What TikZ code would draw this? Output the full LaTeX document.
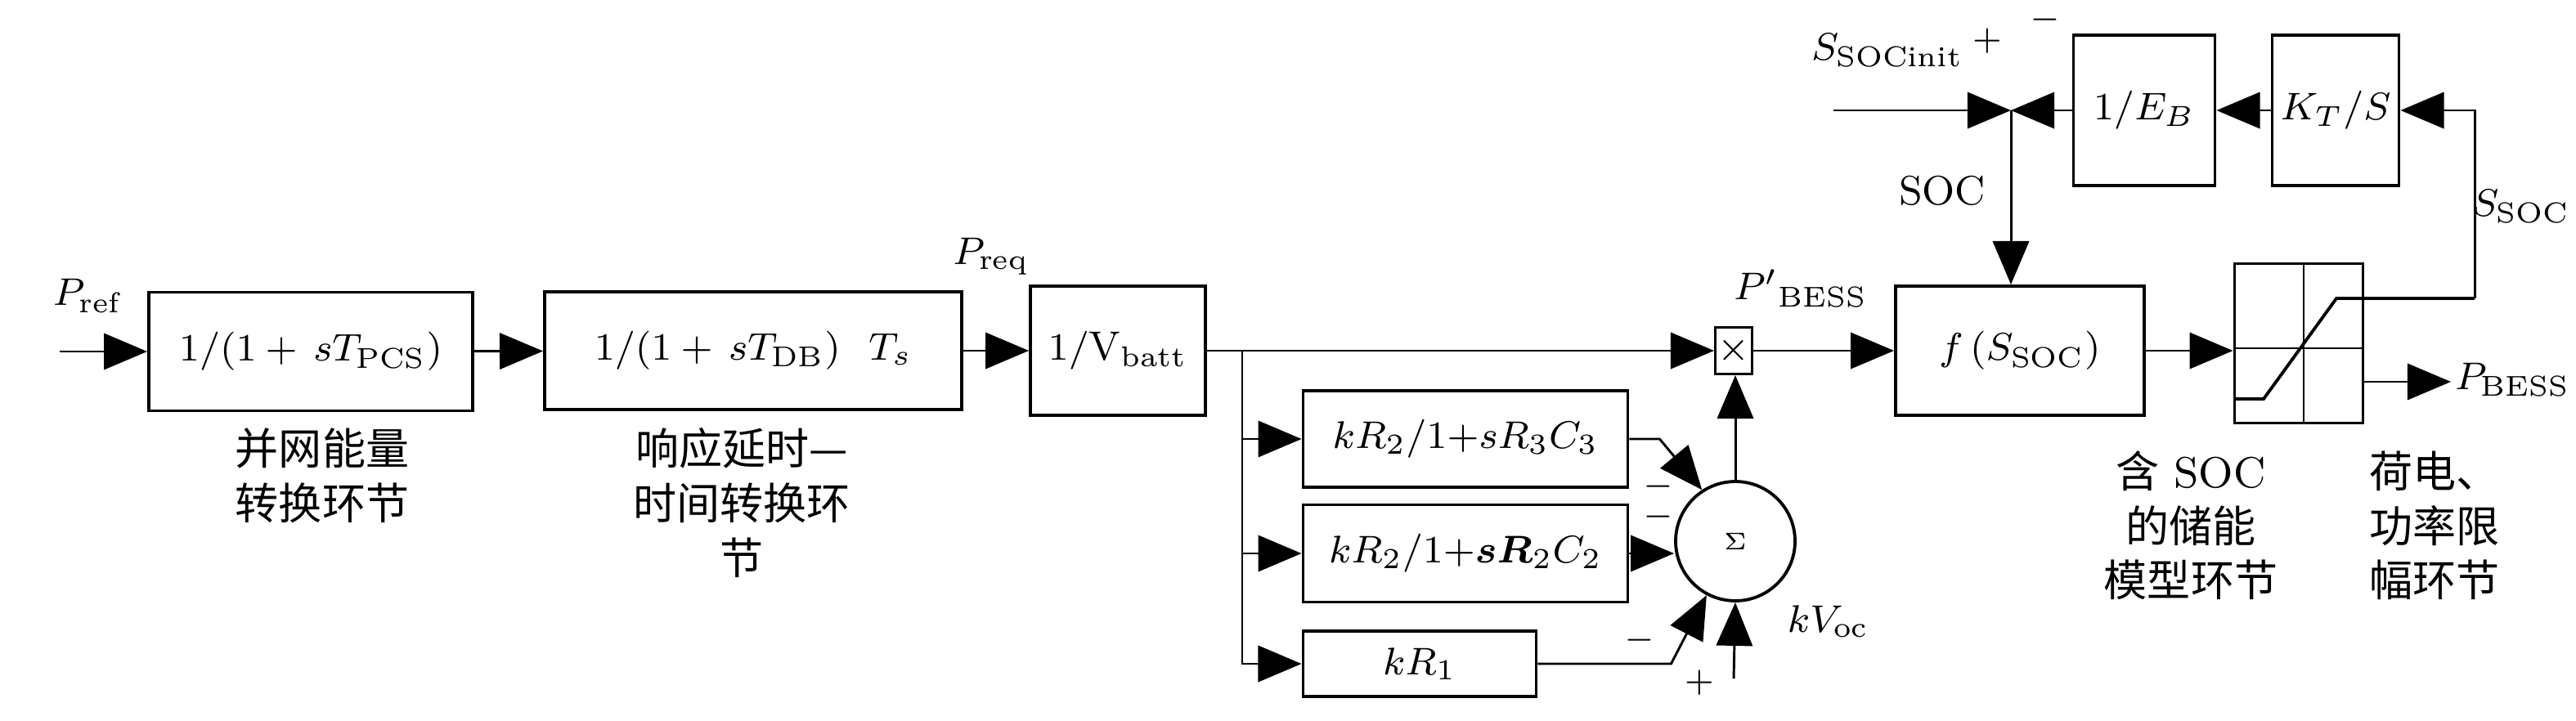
\documentclass[tikz,border=0pt]{standalone}
\usepackage{amsmath}
\usepackage{fontspec}
\newfontfamily\cjk{Noto Sans CJK SC}
\usetikzlibrary{arrows.meta}

\tikzset{
  blk/.style={draw, line width=0.65pt, inner sep=0pt},
  sig/.style={line width=0.5pt, -{Triangle[length=9pt,width=7.5pt]}},
  sgn/.style={font=\scriptsize, inner sep=0pt},
  cn/.style={font=\fontsize{9}{11.3}\selectfont, align=center, inner sep=0pt}
}

\begin{document}
\begin{tikzpicture}[x=0.596cm,y=-0.596cm,font=\fontsize{8.5}{10.2}\selectfont]
      \useasboundingbox (0,0) rectangle (31.50,8.81);

      % blocks
      \node[blk, minimum width=2.36cm, minimum height=0.864cm] (pcs) at (3.80,4.30) {$1/(1 + \,sT_{\mathrm{PCS}})$};
      \node[blk, minimum width=3.04cm, minimum height=0.858cm] (db) at (9.21,4.29) {$1/(1 + \,sT_{\mathrm{DB}})\ \ T_s$};
      \node[blk, minimum width=1.275cm, minimum height=0.942cm] (vb) at (13.67,4.29) {$1/\mathrm{V}_{\mathrm{batt}}$};
      \node[blk, minimum width=2.366cm, minimum height=0.703cm] (rc3) at (17.92,5.37) {$kR_2/1{+}sR_3C_3$};
      \node[blk, minimum width=2.366cm, minimum height=0.709cm] (rc2) at (17.92,6.77) {\raisebox{-3pt}{$kR_2/1{+}\boldsymbol{sR}_2C_2$}};
      \node[blk, minimum width=1.699cm, minimum height=0.477cm] (r1) at (17.36,8.12) {$kR_1$};
      \node[blk, circle, minimum size=0.87cm] (sum) at (21.22,6.62) {\tiny$\Sigma$};
      \node[blk, line width=0.5pt, minimum width=0.268cm, minimum height=0.34cm] (mult) at (21.20,4.29) {\footnotesize$\times$};
      \node[blk, minimum width=1.812cm, minimum height=0.942cm] (fsoc) at (24.70,4.29) {$f\,(S_{\mathrm{SOC}})$};
      \node[blk, minimum width=0.936cm, minimum height=1.162cm] (sat) at (28.11,4.20) {};
      \node[blk, minimum width=1.031cm, minimum height=1.097cm] (eb) at (26.22,1.35) {$1/E_B$};
      \node[blk, minimum width=0.924cm, minimum height=1.097cm] (kt) at (28.56,1.35) {$K_T/S$};

      % saturation
      \draw[line width=0.4pt] (28.17,3.23) -- (28.17,5.18);
      \draw[line width=0.4pt] (27.33,4.26) -- (28.90,4.26);

      % labels
      \node (pref) at (1.07,3.62) {$P_{\mathrm{ref}}$};
      \node (preq) at (12.12,3.14) {$P_{\mathrm{req}}$};
      \node (pbp) at (22.02,3.53) {${P'}_{\mathrm{BESS}}$};
      \node (soc) at (23.75,2.33) {SOC};
      \node[anchor=east, inner sep=0pt] (sinit) at (24.02,0.62) {$S_{\mathrm{SOCinit}}$};
      \node[anchor=east, inner sep=0pt] (ssoc) at (31.44,2.53) {$S_{\mathrm{SOC}}$};
      \node[anchor=east, inner sep=0pt] (pbess) at (31.44,4.65) {$P_{\mathrm{BESS}}$};
      \node (kvoc) at (22.36,7.60) {$kV_{\mathrm{oc}}$};
      \node[sgn] at (24.30,0.50) {$+$};
      \node[sgn] at (25.01,0.24) {$-$};
      \node[sgn] at (20.28,5.95) {$-$};
      \node[sgn] at (20.28,6.32) {$-$};
      \node[sgn] at (20.05,7.83) {$-$};
      \node[sgn] at (20.78,8.35) {$+$};

      \node[cn] (cn1) at (3.94,5.82) {{\cjk 并网能量}\\{\cjk 转换环节}};
      \node[cn] (cn2) at (9.07,6.15) {{\cjk 响应延时—}\\{\cjk 时间转换环}\\{\cjk 节}};
      \node[cn] (cn3) at (26.79,6.43) {{\cjk 含} SOC\\{\cjk 的储能}\\{\cjk 模型环节}};
      \node[cn] (cn4) at (29.77,6.43) {{\cjk 荷电、}\\{\cjk 功率限}\\{\cjk 幅环节}};

      \coordinate (in) at (0.73,4.30);
      \coordinate (br) at (15.19,4.29);
      \coordinate (voc) at (21.20,8.30);
      \coordinate (jn) at (24.59,1.35);
      \coordinate (sin) at (22.42,1.35);
      \coordinate (fb) at (30.26,3.65);
      \coordinate (pout) at (29.97,4.67);

      % connectors
      \draw[sig] (in) -- (pcs);
      \draw[sig] (pcs) -- (db);
      \draw[sig] (db) -- (vb);
      \draw[sig] (vb) -- (mult);
      \draw[sig] (br) |- (rc3.west);
      \draw[sig] (br) |- (rc2.west);
      \draw[sig] (br) |- (r1.west);
      \draw[sig] (rc3.east) -- ++(0.37,0) -- (sum.123);
      \draw[sig] (rc2.east) -- (rc2.east -| sum.west);
      \draw[sig] (r1.east) -- ++(1.63,0) -- (sum.242);
      \draw[sig] (voc) -- (sum.south);
      \draw[sig] (sum.north) -- (sum.north |- mult.south);
      \draw[sig] (mult) -- (fsoc);
      \draw[sig] (fsoc.east) -- (fsoc.east -| sat.west);
      \draw[sig] (sat.east |- pout) -- (pout);
      \draw[line width=0.65pt] (27.33,4.88) -- (27.68,4.88) -- (28.57,3.65) -- (fb);
      \draw[sig] (fb) |- (kt.east);
      \draw[sig] (kt) -- (eb);
      \draw[sig] (eb) -- (jn);
      \draw[sig] (sin) -- (jn);
      \draw[sig] (jn) -- (jn |- fsoc.north);

\end{tikzpicture}
\end{document}
